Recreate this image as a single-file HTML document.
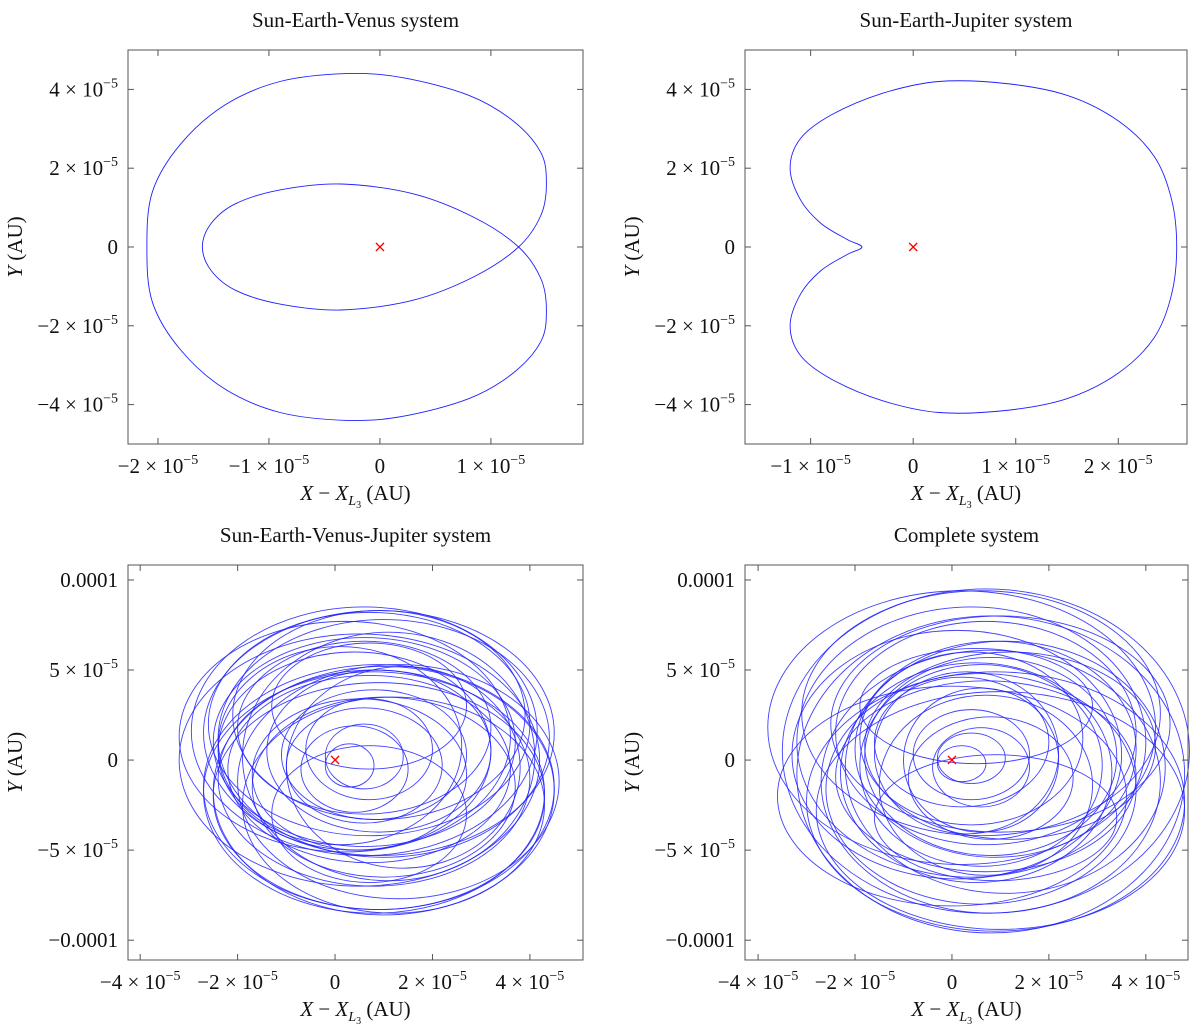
<!DOCTYPE html>
<html><head><meta charset="utf-8">
<style>
body{margin:0;background:#fff;}
svg{display:block;font-family:"Liberation Serif",serif;}
</style></head>
<body>
<svg id="fig" width="1200" height="1028" viewBox="0 0 1200 1028"></svg>
<script>
// ---- data (units of 1e-5 AU) ----
const venusX = [-1.6,-1.52,-1.3,-0.9,-0.35,0.3,0.85,1.25,1.45,1.5,1.45,1.2,0.8,0.2,-0.3,-0.9,-1.4,-1.8,-2.05,-2.1,-2.05,-1.8,-1.4,-0.9,-0.3,0.2,0.8,1.2,1.45,1.5,1.45,1.25,0.85,0.3,-0.35,-0.9,-1.3,-1.52];
const venusY = [0,0.6,1.1,1.45,1.6,1.35,0.75,0,-0.8,-1.6,-2.4,-3.2,-3.85,-4.3,-4.4,-4.2,-3.6,-2.6,-1.4,0,1.4,2.6,3.6,4.2,4.4,4.3,3.85,3.2,2.4,1.6,0.8,0,-0.75,-1.35,-1.6,-1.45,-1.1,-0.6];
const jupX = [-0.5,-0.65,-0.9,-1.1,-1.2,-1.1,-0.8,-0.3,0.25,0.9,1.5,2.0,2.35,2.52,2.57,2.52,2.35,2.0,1.5,0.9,0.25,-0.3,-0.8,-1.1,-1.2,-1.1,-0.9,-0.65];
const jupY = [0,0.2,0.6,1.2,2.0,2.75,3.35,3.9,4.2,4.15,3.85,3.2,2.3,1.2,0,-1.2,-2.3,-3.2,-3.85,-4.15,-4.2,-3.9,-3.35,-2.75,-2.0,-1.2,-0.6,-0.2];
// chaotic panels: loops approximated as ellipses
const svjCx = [0.9,0.9,1.0,0.8,0.7,0.9,0.6,0.8,0.4,0.7,0.6,1.0,0.9,0.5,0.8,0.6,0.7,0.4,0.6,0.3,0.9,1.2,0.2,1.3,0.5,1.1,0.7,0.7,0.1,1.4,0.6,1.0];
const svjCy = [1.5,-1.5,1.2,-1.8,2,-2,1,-1,0.5,-0.5,1.8,-1.5,0.5,-0.8,0.3,-0.3,0.6,-0.5,0.2,-0.3,2.5,-2.5,1.3,-1.2,0,0.2,3,-3,0.8,-0.4,1.6,-1.7];
const svjRx = [3.6,3.6,3.4,3.5,3.3,3.4,3.1,3.2,2.8,2.9,2.6,2.7,2.3,2.2,1.9,1.6,1.3,1.1,0.8,0.5,3.0,3.1,3.4,3.3,3.7,3.0,2.0,2.0,2.5,2.4,3.55,3.5];
const svjRy = [6.8,6.8,6.6,6.7,6.2,6.3,5.8,6.0,5.5,5.2,4.8,5.0,4.5,4.2,3.6,3.2,2.8,2.4,1.8,1.2,5.8,6.0,6.4,6.5,7.0,6.9,3.5,3.8,5.5,5.6,6.9,6.9];
const allCx = [0.7,0.8,0.2,0.9,0.6,1.0,0.4,0.8,0.1,1.1,0.7,0.6,0.9,0.5,0.8,0.6,0.4,0.7,0.3,0.6,1.0,0.0,1.2,0.7,0.5,0.9,0.4,0.6,0.2,0.8,0.4,0.2];
const allCy = [0.5,-0.8,1.8,-2.3,2.6,-2.8,1.0,-1.2,0.3,-0.4,1.5,-1.6,0.6,-0.7,0.2,-0.3,1.2,-1.4,0.4,0.0,2.0,-2.0,0.8,-0.9,3.0,-3.2,0.3,-0.4,1.0,-1.0,0.1,-0.2];
const allRx = [4.2,4.0,4.0,3.9,3.7,3.8,3.6,3.5,3.4,3.3,3.1,3.2,2.9,2.8,2.6,2.5,2.3,2.2,1.9,1.6,3.5,3.6,3.0,3.1,2.4,2.5,1.2,1.0,1.8,1.7,0.7,0.5];
const allRy = [9.0,8.8,7.6,7.2,6.8,6.6,7.5,7.3,6.9,7.0,6.2,6.4,6.0,6.1,5.5,5.6,4.8,5.0,4.5,4.0,6.0,6.1,5.2,5.3,3.2,3.5,2.5,2.2,3.6,3.4,1.4,1.0];

const NS="http://www.w3.org/2000/svg";
const svg=document.getElementById('fig');
function mk(tag,attrs,parent){const e=document.createElementNS(NS,tag);for(const k in attrs)e.setAttribute(k,attrs[k]);(parent||svg).appendChild(e);return e;}

const panels=[
 {name:'sun-earth-venus',title:'Sun-Earth-Venus system',L:128,R:583,T:50,B:444,x0:-2.27,x1:1.83,y0:-5.0,y1:5.0,xt:[-2,-1,0,1],yt:[-4,-2,0,2,4],ylab:v=>v==0?['0']:[v+' × 10','−5'],xlab:v=>v==0?['0']:[v+' × 10','−5']},
 {name:'sun-earth-jupiter',title:'Sun-Earth-Jupiter system',L:745,R:1187,T:50,B:444,x0:-1.64,x1:2.67,y0:-5.0,y1:5.0,xt:[-1,0,1,2],yt:[-4,-2,0,2,4],ylab:v=>v==0?['0']:[v+' × 10','−5'],xlab:v=>v==0?['0']:[v+' × 10','−5']},
 {name:'sun-earth-venus-jupiter',title:'Sun-Earth-Venus-Jupiter system',L:128,R:583,T:565,B:960,x0:-4.25,x1:5.09,y0:-11.1,y1:10.83,xt:[-4,-2,0,2,4],yt:[-10,-5,0,5,10],ylab:v=>v==0?['0']:Math.abs(v)==10?[(v<0?'−':'')+'0.0001']:[v+' × 10','−5'],xlab:v=>v==0?['0']:[v+' × 10','−5']},
 {name:'complete-system',title:'Complete system',L:745,R:1188,T:565,B:960,x0:-4.27,x1:4.87,y0:-11.1,y1:10.83,xt:[-4,-2,0,2,4],yt:[-10,-5,0,5,10],ylab:v=>v==0?['0']:Math.abs(v)==10?[(v<0?'−':'')+'0.0001']:[v+' × 10','−5'],xlab:v=>v==0?['0']:[v+' × 10','−5']}
];
function fmt(s){return s.replace(/^-/,'−');}

function closedPath(xs,ys,sx,sy){
 const n=xs.length;const P=i=>[sx(xs[(i+n)%n]),sy(ys[(i+n)%n])];
 let d='M'+P(0).join(',');
 for(let i=0;i<n;i++){const p0=P(i-1),p1=P(i),p2=P(i+1),p3=P(i+2);
  const c1=[p1[0]+(p2[0]-p0[0])/6,p1[1]+(p2[1]-p0[1])/6];
  const c2=[p2[0]-(p3[0]-p1[0])/6,p2[1]-(p3[1]-p1[1])/6];
  d+='C'+c1.map(v=>v.toFixed(1)).join(',')+' '+c2.map(v=>v.toFixed(1)).join(',')+' '+p2.map(v=>v.toFixed(1)).join(',');}
 return d+'Z';
}

panels.forEach((p,pi)=>{
 const g=mk('g',{});
 
 
 const sx=v=>p.L+(v-p.x0)/(p.x1-p.x0)*(p.R-p.L);
 const sy=v=>p.B-(v-p.y0)/(p.y1-p.y0)*(p.B-p.T);
 const t=mk('text',{x:(p.L+p.R)/2,y:p.T-23,'text-anchor':'middle','font-size':21,fill:'#111'},g);
 t.textContent=p.title;
 
 
 const cg=mk('g',{fill:'none',stroke:'#2020ff','stroke-width':0.9},g);
 
 
 if(pi<2){
  const xs=pi==0?venusX:jupX, ys=pi==0?venusY:jupY;
  const path=mk('path',{d:closedPath(xs,ys,sx,sy)},cg);
  
  
 } else {
  const cx=pi==2?svjCx:allCx, cy=pi==2?svjCy:allCy, rx=pi==2?svjRx:allRx, ry=pi==2?svjRy:allRy;
  for(let i=0;i<cx.length;i++){
   const e=mk('ellipse',{cx:sx(cx[i]),cy:sy(cy[i]),rx:Math.abs(sx(rx[i])-sx(0)),ry:Math.abs(sy(ry[i])-sy(0)),opacity:0.85},cg);
   
   
  }
 }
 const m=mk('text',{x:sx(0),y:sy(0)+5,'text-anchor':'middle','font-size':16,fill:'#ff0000','font-family':'DejaVu Sans, sans-serif'},g);
 m.textContent='×';
 
 
 const fr=mk('rect',{x:p.L,y:p.T,width:p.R-p.L,height:p.B-p.T,fill:'none',stroke:'#555','stroke-width':1},g);
 
 
 p.xt.forEach(v=>{
  const x=sx(v);
  mk('line',{x1:x,x2:x,y1:p.B,y2:p.B-6,stroke:'#555'},g);
  mk('line',{x1:x,x2:x,y1:p.T,y2:p.T+6,stroke:'#555'},g);
  const lb=p.xlab(v);
  const tx=mk('text',{x:x,y:p.B+29,'text-anchor':'middle','font-size':21,fill:'#111'},g);
  
  
  const a=mk('tspan',{},tx);a.textContent=fmt(lb[0]);
  if(lb[1]){const b=mk('tspan',{dy:-9,'font-size':14},tx);b.textContent=lb[1];}
 });
 p.yt.forEach(v=>{
  const y=sy(v);
  mk('line',{x1:p.L,x2:p.L+6,y1:y,y2:y,stroke:'#555'},g);
  mk('line',{x1:p.R,x2:p.R-6,y1:y,y2:y,stroke:'#555'},g);
  const lb=p.ylab(v);
  const ty=mk('text',{x:p.L-10,y:y+7,'text-anchor':'end','font-size':21,fill:'#111'},g);
  
  
  const a=mk('tspan',{},ty);a.textContent=fmt(lb[0]);
  if(lb[1]){const b=mk('tspan',{dy:-9,'font-size':14},ty);b.textContent=lb[1];}
 });
 const xl=mk('text',{x:(p.L+p.R)/2,y:p.B+56,'text-anchor':'middle','font-size':21,fill:'#111'},g);
 
 
 xl.innerHTML='<tspan font-style="italic">X</tspan> − <tspan font-style="italic">X</tspan><tspan font-style="italic" font-size="14" dy="5">L</tspan><tspan font-size="10" dy="3">3</tspan><tspan dy="-8"> (AU)</tspan>';
 const yc=(p.T+p.B)/2, yx=p.L-106;
 const yl=mk('text',{x:0,y:0,'text-anchor':'middle','font-size':21,fill:'#111',transform:`translate(${yx},${yc}) rotate(-90)`},g);
 
 
 yl.innerHTML='<tspan font-style="italic">Y</tspan> (AU)';
});
</script>
</body></html>
